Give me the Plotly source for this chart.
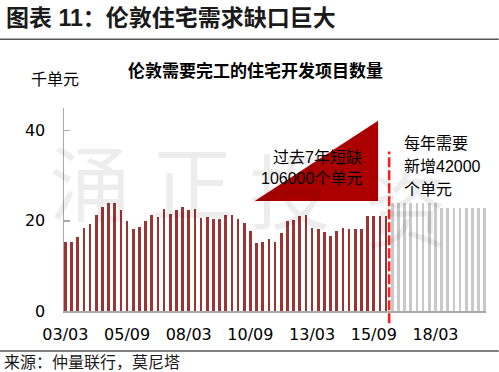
import plotly.graph_objects as go

# ---- data ----
actual_values = [15.4, 15.2, 16.3, 18.3, 19.3, 21.2, 23.0, 24.0, 24.0, 22.4,
                 19.9, 18.1, 18.6, 19.9, 21.2, 20.9, 22.6, 21.5, 22.4, 23.0,
                 22.4, 22.6, 20.7, 20.9, 20.3, 20.3, 21.3, 21.3, 20.3, 19.6,
                 17.8, 15.0, 15.2, 15.9, 15.3, 17.4, 19.9, 20.1, 21.1, 21.3,
                 18.3, 18.1, 17.6, 16.6, 17.8, 18.3, 18.1, 18.1, 18.1, 21.0,
                 21.0, 21.0, 21.0]
forecast_values = [23.9, 23.9, 23.9, 23.9, 23.9, 23.9, 23.9, 23.9,
                   22.9, 22.9, 22.9, 22.9, 22.9, 22.9, 22.9, 22.9]
tick_positions = [0, 10, 20, 30, 40, 50, 60]
tick_labels = ["03/03", "05/09", "08/03", "10/09", "13/03", "15/09", "18/03"]
y_ticks = [0, 20, 40]

n_act = len(actual_values)
x_act = list(range(n_act))
x_fc = list(range(n_act, n_act + len(forecast_values)))

# plot-area pixel geometry (for placing text outside the axes)
W, H = 499, 372
L, R, T, B = 64.3, 486.3, 108.2, 310.7
PW, PH = R - L, B - T


def px(xp):
    return (xp - L) / PW


def py(yp):
    return (B - yp) / PH


CJK = "Liberation Sans, Noto Sans CJK SC, sans-serif"

fig = go.Figure()
fig.add_trace(go.Bar(x=x_act, y=actual_values, width=0.42,
                     marker=dict(color="#9C3434", line=dict(width=0)),
                     showlegend=False, hoverinfo="skip"))
fig.add_trace(go.Bar(x=x_fc, y=forecast_values, width=0.42,
                     marker=dict(color="#C8C8C8", line=dict(width=0)),
                     showlegend=False, hoverinfo="skip"))

shapes = []
# red triangle
tx0, tx1, ty0, ty1 = 30.7, 50.7, 24.4, 42.2
shapes.append(dict(type="path", xref="x", yref="y",
                   path=f"M {tx0} {ty0} L {tx1} {ty0} L {tx1} {ty1} Z",
                   fillcolor="#AC0000", line=dict(width=0), layer="above"))
# dashed separator
shapes.append(dict(type="line", xref="x", yref="paper", x0=52.5, x1=52.5,
                   y0=py(323), y1=py(151.7),
                   line=dict(color="#FF1A1A", width=2.5, dash="10px,3px")))
# header rule and footer rule
shapes.append(dict(type="line", xref="paper", yref="paper", x0=px(0), x1=px(499),
                   y0=py(39.5), y1=py(39.5), line=dict(color="#555555", width=1.5)))
shapes.append(dict(type="line", xref="paper", yref="paper", x0=px(0), x1=px(499),
                   y0=py(350.7), y1=py(350.7), line=dict(color="#555555", width=1.5)))

ann = []


def add_text(text, xp, yp, size, xanchor="left", bold=False, color="#000000", family=CJK):
    if bold:
        text = f"<b>{text}</b>"
    ann.append(dict(text=text, x=px(xp), y=py(yp), xref="paper", yref="paper",
                    xanchor=xanchor, yanchor="middle", showarrow=False,
                    font=dict(size=size, color=color, family=family)))


# watermark
wm_color = "rgba(0,0,0,0.07)"
for ch, xx, yy in [("涌", 90, 180), ("正", 192, 180), ("投", 290, 188), ("资", 406, 205)]:
    add_text(ch, xx, yy, 82, xanchor="center", color=wm_color, family="Noto Sans CJK SC")

add_text("图表 11：伦敦住宅需求缺口巨大", 4, 18, 23, bold=True, color="#1A1A1A")
add_text("伦敦需要完工的住宅开发项目数量", 255.5, 71, 17, xanchor="center", bold=True)
add_text("千单元", 29, 80, 16)
add_text("过去7年短缺", 364, 157.3, 16, xanchor="right")
add_text("106000个单元", 364, 178.3, 16, xanchor="right")
add_text("每年需要", 402, 143.3, 16)
add_text("新增42000", 402, 166.7, 16)
add_text("个单元", 402, 189.3, 16)
add_text("来源：仲量联行，莫尼塔", 2, 362, 16, color="#1A1A1A")

fig.update_layout(
    width=W, height=H, autosize=False,
    margin=dict(l=L, r=W - R, t=T, b=H - B, pad=0),
    paper_bgcolor="white", plot_bgcolor="white",
    bargap=0, barmode="overlay",
    shapes=shapes, annotations=ann,
    xaxis=dict(range=[-0.227, 68.2], tickvals=tick_positions, ticktext=tick_labels,
               showgrid=False, zeroline=False, showline=True, linecolor="#A8A8A8",
               linewidth=2, ticks="", ticklabelstandoff=8,
               tickfont=dict(family="DejaVu Sans", size=16, color="#000000")),
    yaxis=dict(range=[0, 45], tickvals=y_ticks, showgrid=False, zeroline=False,
               showline=True, linecolor="#A8A8A8", linewidth=1.5,
               ticks="inside", ticklen=6, tickcolor="#A8A8A8", tickwidth=1.5,
               ticklabelstandoff=14,
               tickfont=dict(family="DejaVu Sans", size=16, color="#000000")),
)

fig.write_html("out.html",
               config={"displayModeBar": False, "staticPlot": True},
               post_script="document.body.style.margin='0';document.body.style.overflow='hidden';")
